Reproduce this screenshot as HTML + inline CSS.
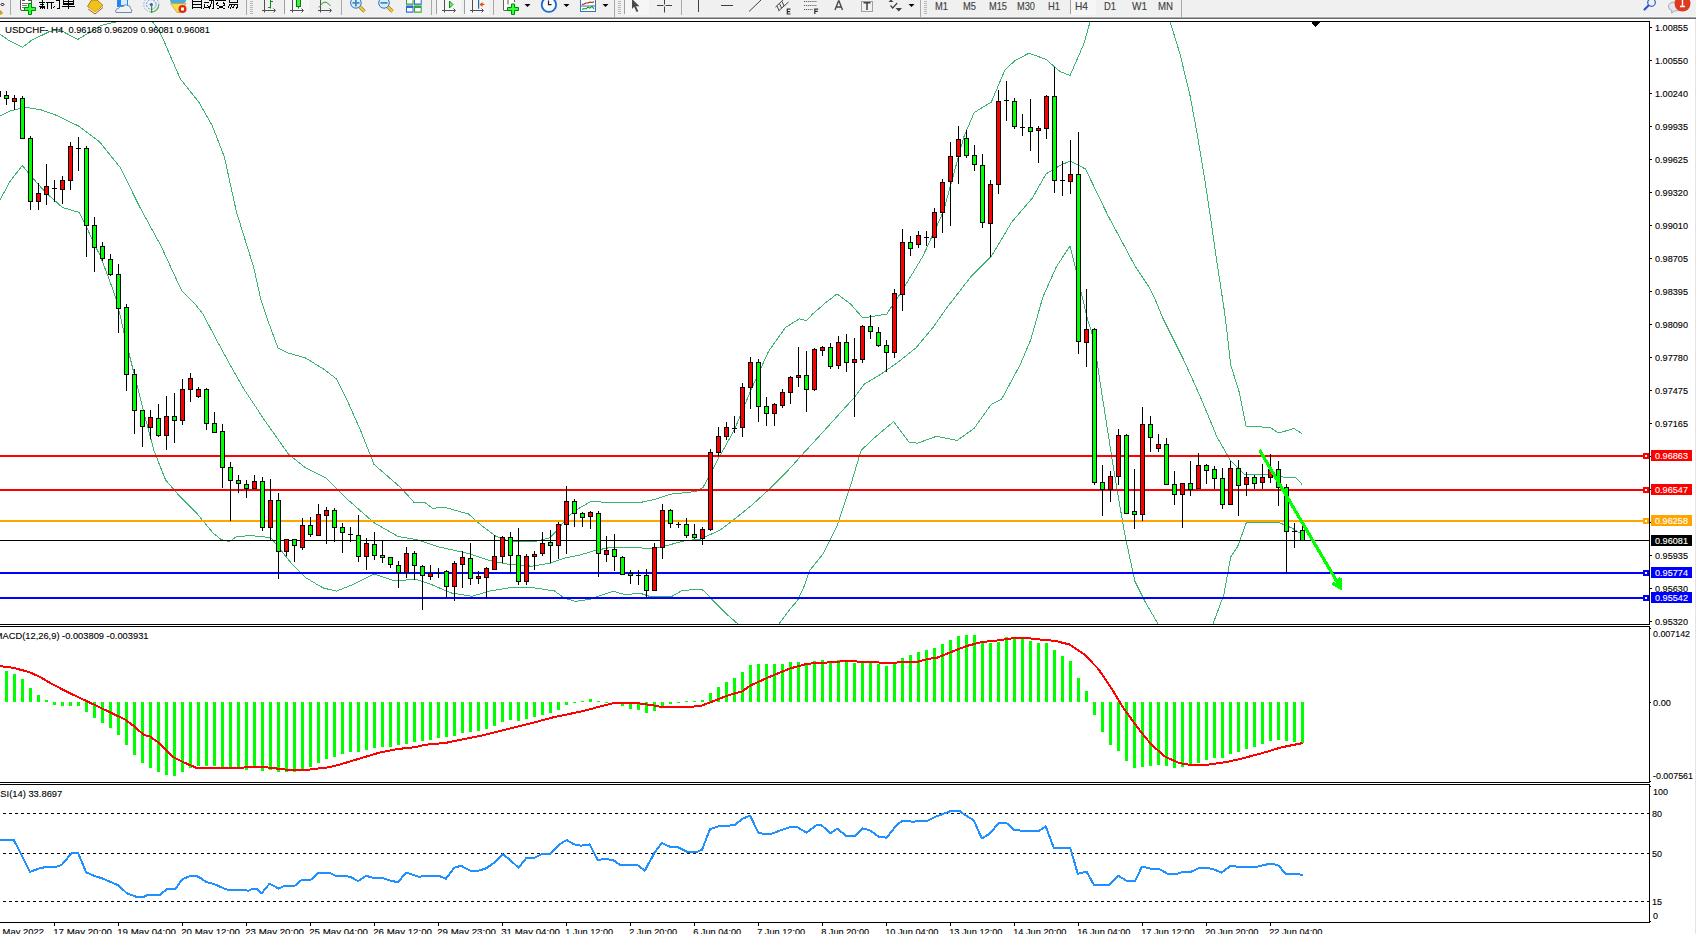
<!DOCTYPE html><html><head><meta charset="utf-8"><style>html,body{margin:0;padding:0;background:#fff;overflow:hidden}svg{display:block}text{font-family:'Liberation Sans',sans-serif}</style></head><body>
<svg width="1696" height="934" viewBox="0 0 1696 934">
<g id="toolbar">
<rect x="0" y="0" width="1696" height="19" fill="#f0f0f0"/>
<rect x="0" y="16" width="1696" height="1" fill="#f5f5f5"/>
<rect x="0" y="17" width="1696" height="1" fill="#a8a8a8"/>
<rect x="0" y="18" width="1696" height="1" fill="#6c6c6c"/>
<rect x="0" y="19" width="1696" height="2" fill="#ffffff"/>
<rect x="10" y="0" width="1" height="15" fill="#a8a8a8"/>
<rect x="246" y="0" width="1" height="15" fill="#a8a8a8"/>
<rect x="341" y="0" width="1" height="15" fill="#a8a8a8"/>
<rect x="431" y="0" width="1" height="15" fill="#a8a8a8"/>
<rect x="493" y="0" width="1" height="15" fill="#a8a8a8"/>
<rect x="681" y="0" width="1" height="15" fill="#a8a8a8"/>
<rect x="614" y="0" width="1" height="17" fill="#a8a8a8"/>
<rect x="920" y="0" width="1" height="17" fill="#a8a8a8"/>
<rect x="1181" y="0" width="1" height="17" fill="#a8a8a8"/>
<rect x="250" y="1" width="3" height="1" fill="#b8b8b8"/>
<rect x="250" y="3" width="3" height="1" fill="#b8b8b8"/>
<rect x="250" y="5" width="3" height="1" fill="#b8b8b8"/>
<rect x="250" y="7" width="3" height="1" fill="#b8b8b8"/>
<rect x="250" y="9" width="3" height="1" fill="#b8b8b8"/>
<rect x="250" y="11" width="3" height="1" fill="#b8b8b8"/>
<rect x="250" y="13" width="3" height="1" fill="#b8b8b8"/>
<rect x="618" y="1" width="3" height="1" fill="#b8b8b8"/>
<rect x="618" y="3" width="3" height="1" fill="#b8b8b8"/>
<rect x="618" y="5" width="3" height="1" fill="#b8b8b8"/>
<rect x="618" y="7" width="3" height="1" fill="#b8b8b8"/>
<rect x="618" y="9" width="3" height="1" fill="#b8b8b8"/>
<rect x="618" y="11" width="3" height="1" fill="#b8b8b8"/>
<rect x="618" y="13" width="3" height="1" fill="#b8b8b8"/>
<rect x="924" y="1" width="3" height="1" fill="#b8b8b8"/>
<rect x="924" y="3" width="3" height="1" fill="#b8b8b8"/>
<rect x="924" y="5" width="3" height="1" fill="#b8b8b8"/>
<rect x="924" y="7" width="3" height="1" fill="#b8b8b8"/>
<rect x="924" y="9" width="3" height="1" fill="#b8b8b8"/>
<rect x="924" y="11" width="3" height="1" fill="#b8b8b8"/>
<rect x="924" y="13" width="3" height="1" fill="#b8b8b8"/>
<rect x="285" y="0" width="24" height="15" fill="#f6f6f6"/>
<rect x="284" y="0" width="1" height="14" fill="#a0a0a0"/>
<rect x="437" y="0" width="24" height="15" fill="#f6f6f6"/>
<rect x="436" y="0" width="1" height="14" fill="#a0a0a0"/>
<rect x="465" y="0" width="24" height="15" fill="#f6f6f6"/>
<rect x="464" y="0" width="1" height="14" fill="#a0a0a0"/>
<rect x="625" y="0" width="24" height="15" fill="#f6f6f6"/>
<rect x="624" y="0" width="1" height="14" fill="#a0a0a0"/>
<rect x="1071" y="0" width="25" height="15" fill="#f6f6f6"/>
<rect x="1070" y="0" width="1" height="14" fill="#a0a0a0"/>
<path d="M524.5,4 h6 l-3,3 z" fill="#000"/>
<path d="M563.5,4 h6 l-3,3 z" fill="#000"/>
<path d="M602.5,4 h6 l-3,3 z" fill="#000"/>
<path d="M908.5,4 h6 l-3,3 z" fill="#000"/>

<!-- left tiny diamond + gold -->
<path d="M2.5,3 l1.5,1.5 l-1.5,1.5 l-1.5,-1.5 z" fill="none" stroke="#000" stroke-width="1"/>
<path d="M0,10 l2.5,2 l0,2 l-2.5,1 z" fill="#d4a010"/>
<!-- new order doc -->
<path d="M20.5,-1 v10 q0,1.5 1.5,1.5 h9.5 v-11.5" fill="#fff" stroke="#505050" stroke-width="1"/>
<rect x="22" y="0" width="3" height="1" fill="#555"/><rect x="28" y="0" width="3" height="1" fill="#555"/>
<rect x="22" y="3" width="6" height="1" fill="#777"/><rect x="22" y="5" width="5" height="1" fill="#777"/><rect x="22" y="7" width="3" height="1" fill="#777"/>
<path d="M28.5,3.5 h3 v4 h4 v3 h-4 v4 h-3 v-4 h-4 v-3 h4 z" fill="#30ff40" stroke="#008a00" stroke-width="1"/>
<!-- book -->
<path d="M87.5,6.5 L91.5,0 L97,0 L103,5.5 L95,12.5 Z" fill="#f0c21e" stroke="#b07a10" stroke-width="1"/>
<path d="M88.5,8 L95,12.8 L102.8,6.8" fill="none" stroke="#fff0c0" stroke-width="1"/>
<path d="M88,9 L95,14 L103,7.5" fill="none" stroke="#a06a10" stroke-width="1"/>
<!-- cloud server -->
<rect x="117" y="0" width="11" height="7" fill="#1e88f0"/>
<rect x="121" y="0" width="6" height="5" fill="#d8ecff"/>
<path d="M116,12.5 q-1.5,-3.5 2.5,-4 q1,-3 4.5,-2 q2,-3 5,-1 q2.5,0 2.5,3 q2,1 1,4 z" fill="#eef2f8" stroke="#7088aa" stroke-width="1"/>
<!-- signals -->
<circle cx="151.3" cy="4.5" r="7.5" fill="none" stroke="#9ab6e0" stroke-width="1" stroke-dasharray="2,1"/>
<circle cx="151.3" cy="4.5" r="4.8" fill="none" stroke="#6a92d8" stroke-width="1" stroke-dasharray="2,1"/>
<path d="M151.3,12 a7.5,7.5 0 0 0 7.5,-7.5" fill="none" stroke="#58b058" stroke-width="1.2"/>
<circle cx="151.3" cy="4.5" r="1.6" fill="#2a60d0"/>
<rect x="151" y="5" width="1.2" height="8" fill="#20a020"/>
<!-- autotrading -->
<ellipse cx="178" cy="1" rx="8" ry="3.5" fill="#48a8e8"/>
<path d="M170.5,3.5 L186,3.5 L180,12.5 L177,12.5 Z" fill="#f4dc50" stroke="#c8a828" stroke-width="0.8"/>
<circle cx="182.5" cy="9" r="4" fill="#e02a10"/>
<rect x="181" y="7.5" width="3" height="3" fill="#fff"/>
<!-- bar chart -->
<path d="M264.5,0 v12.5 M262,10.5 h13 M273.5,8.5 l2,2 l-2,2" fill="none" stroke="#505050" stroke-width="1"/>
<path d="M270.5,0 v8.5 M270.5,1.5 h2.5 M268,7.5 h2.5" fill="none" stroke="#109010" stroke-width="1"/>
<!-- candles (pressed) -->
<path d="M292.5,0 v12.5 M290,10.5 h13 M301.5,8.5 l2,2 l-2,2" fill="none" stroke="#505050" stroke-width="1"/>
<rect x="296.5" y="-1" width="4" height="7.5" fill="#40f040" stroke="#0a7a0a" stroke-width="1"/>
<rect x="298" y="6.5" width="1" height="2" fill="#0a7a0a"/>
<!-- line chart -->
<path d="M320.5,0 v12.5 M318,10.5 h13 M329.5,8.5 l2,2 l-2,2" fill="none" stroke="#505050" stroke-width="1"/>
<path d="M319,7.5 q3,-5.5 6,-5.5 q2.5,0 5.5,4" fill="none" stroke="#2a9a2a" stroke-width="1"/>
<!-- zoom in / out -->
<path d="M360,7 l4.5,4.5" stroke="#a87810" stroke-width="3.2" stroke-linecap="butt"/>
<path d="M360,7 l4.5,4.5" stroke="#f0d040" stroke-width="1.8" stroke-linecap="butt"/>
<circle cx="355.9" cy="2.9" r="5.3" fill="#d4eefc" stroke="#2a70c0" stroke-width="1"/>
<path d="M352.5,2.9 h7 M355.9,-0.5 v7" stroke="#4a88b8" stroke-width="1.8"/>
<path d="M388,7 l4.5,4.5" stroke="#a87810" stroke-width="3.2" stroke-linecap="butt"/>
<path d="M388,7 l4.5,4.5" stroke="#f0d040" stroke-width="1.8" stroke-linecap="butt"/>
<circle cx="384" cy="2.9" r="5.3" fill="#d4eefc" stroke="#2a70c0" stroke-width="1"/>
<path d="M380.5,2.9 h7" stroke="#4a88b8" stroke-width="1.8"/>
<!-- tile -->
<rect x="406" y="-1" width="7.5" height="5.8" fill="#2ea82e"/><rect x="414" y="-1" width="7.7" height="5.8" fill="#2a6ad8"/>
<rect x="406" y="5.5" width="7.5" height="7.2" fill="#2a6ad8"/><rect x="414" y="5.5" width="7.7" height="7.2" fill="#2ea82e"/>
<rect x="407" y="0" width="5.5" height="3.5" fill="#fff"/><rect x="415" y="0" width="5.7" height="3.5" fill="#fff"/>
<rect x="407" y="8" width="5.5" height="3.5" fill="#fff"/><rect x="415" y="8" width="5.7" height="3.5" fill="#fff"/>
<!-- autoscroll / shift -->
<path d="M444.5,0 v12.5 M442,10.5 h13 M453.5,8.5 l2,2 l-2,2" fill="none" stroke="#505050" stroke-width="1"/>
<path d="M449.5,1 l3.5,3.5 l-3.5,3.5 z" fill="#70f070" stroke="#109010" stroke-width="1"/>
<path d="M472.5,0 v12.5 M470,10.5 h13 M481.5,8.5 l2,2 l-2,2" fill="none" stroke="#505050" stroke-width="1"/>
<rect x="478" y="0" width="1.2" height="8.7" fill="#1a6aa8"/>
<path d="M479.5,4.4 l3,-2.5 v1.8 h1.8 v1.4 h-1.8 v1.8 z" fill="#e04a10"/>
<!-- indicators -->
<path d="M503.5,-1 v10.5 q0,1 1,1 h6 M514.5,-1 v3" fill="#fff" stroke="#606060" stroke-width="1"/>
<rect x="504" y="-1" width="10" height="11" fill="#fff"/>
<path d="M503.5,-1 v10.5 q0,1 1,1 h6" fill="none" stroke="#606060" stroke-width="1"/>
<path d="M508,-0.5 v5" stroke="#555" stroke-width="1"/>
<path d="M511.5,4 h3 v3.5 h4 v3 h-4 v4 h-3 v-4 h-4 v-3 h4 z" fill="#30ff40" stroke="#008a00" stroke-width="1"/>
<!-- clock -->
<circle cx="548.9" cy="4.7" r="7.2" fill="#f8fafc" stroke="#1a6ad0" stroke-width="1.8"/>
<path d="M548.5,0.5 v4.2 h3" stroke="#202020" stroke-width="1.2" fill="none"/>
<!-- templates -->
<rect x="580.5" y="-0.5" width="15" height="12" fill="#fff" stroke="#3a70c0" stroke-width="1"/>
<rect x="581" y="5.5" width="14" height="1" fill="#3a70c0"/>
<path d="M582,4.5 l2,-0.5 l2,-1 l2,0 l2,-1 l2,0.5 l2,-0.8" stroke="#a02010" stroke-width="1.1" fill="none"/>
<path d="M582,9.5 l2,-1 l2,0.5 l2,-1.8 l2,1 l2,-1.8 l2,2.5" stroke="#10a010" stroke-width="1.1" fill="none"/>
<!-- cursor -->
<path d="M632,-1 v10 l2.2,-2.2 l2.3,5.2 l1.8,-0.8 l-2.3,-5 h3.5 z" fill="#4a4a4a"/>
<!-- crosshair -->
<path d="M657,5.5 h6.5 M665.5,5.5 h6.5 M664.5,-1 v5.5 M664.5,6.5 v6" stroke="#404040" stroke-width="1"/>
<!-- vline, hline, trend -->
<rect x="698" y="0" width="1" height="12" fill="#404040"/>
<rect x="721" y="5" width="12" height="1" fill="#404040"/>
<path d="M749,11.5 l12,-11.5" stroke="#404040" stroke-width="1"/>
<!-- channel E -->
<path d="M775.5,7 l8,-7.5 M778.5,11 l10,-9 M777,6 l2,4.5 M779.5,3.5 l2,4.5 M782,1.5 l2,4.5" stroke="#404040" stroke-width="1" fill="none"/>
<path d="M790.5,9.2 h-3.2 v4.8 h3.2 M787.3,11.6 h2.8" stroke="#303030" stroke-width="1.2" fill="none"/>
<!-- fibo F -->
<path d="M804,1.5 h13 M804,5.5 h13 M804,9.5 h9" stroke="#505050" stroke-width="1" stroke-dasharray="1,0.9" fill="none"/>
<path d="M818.2,9.2 h-3.4 v4.8 M814.8,11.4 h3" stroke="#303030" stroke-width="1.2" fill="none"/>
<!-- A -->
<path d="M835,10 l3.5,-9 h0.5 l3.5,9 M836.3,7 h5" stroke="#454545" stroke-width="1.3" fill="none"/>
<!-- dotted T box -->
<rect x="861.5" y="1.5" width="11" height="10" fill="none" stroke="#505050" stroke-width="1" stroke-dasharray="1,1"/>
<path d="M863.5,2.8 h7 M867,2.8 v7.2" stroke="#404040" stroke-width="1.5"/>
<!-- arrows -->
<path d="M888.5,2 l2.5,-2.5 l2.5,2.5 z M895.5,8 h6.5 l-3.2,3.5 z" fill="#404040"/>
<path d="M890.5,5.5 l2.2,2.5 l4.5,-5" stroke="#404040" stroke-width="1.2" fill="none"/>
<!-- search -->
<circle cx="1651.5" cy="2.5" r="3.8" fill="none" stroke="#2a62d0" stroke-width="1.2"/>
<path d="M1648.5,5.5 l-4,4" stroke="#2a5ad0" stroke-width="2.2" stroke-linecap="round"/>
<!-- chat + badge -->
<path d="M1668.5,7 q0,-5 6,-5 q6,0 6,5 q0,4 -6,4 l-3,2 l0.5,-2.5 q-3.5,-1 -3.5,-3.5 z" fill="#e4e6ee" stroke="#a8a8b0" stroke-width="1"/>
<circle cx="1682.5" cy="3.5" r="8" fill="#e03a1e"/>
<path d="M1682.5,-2 v8 M1680,6.5 h5" stroke="#fff" stroke-width="1.4"/>


<g stroke="#000" stroke-width="1" fill="none" shape-rendering="crispEdges">
<!-- 新 -->
<path d="M39,2.5 h6 M40,4.5 h4 M39,6.5 h6 M42.5,0 v9 M40,8.5 l2,-2 M43,6.5 l2,2"/>
<path d="M46,2.5 h8 M47.5,2.5 v6.5 M51.5,2.5 v6.5 M53,8 l2,-2"/>
<!-- 订 -->
<path d="M56,0 h4 M59.5,0 v8.5 h-3"/>
<!-- 单 -->
<path d="M63.5,0 v4.5 h10 v-4.5 M63.5,1.5 h10 M63.5,3 h10 M62,6.5 h13 M68.5,0 v9"/>
<!-- 自 -->
<path d="M192.5,0 v9 M201.5,0 v9 M192.5,1.5 h9 M192.5,4.5 h9 M192.5,7.5 h9"/>
<!-- 动 -->
<path d="M204,2.5 h5 M205,4 l-1,4 l5,-1 M207.5,5 l1.5,3 M209,0.5 h5 M213.5,0 v8.5 h-2 M211,0 v4 l-2,5"/>
<!-- 交 -->
<path d="M215,0.5 h11 M218,2.5 l-2,2 M223,2.5 l2,2 M217.5,5 l7,4 M224.5,5 l-7,4"/>
<!-- 易 -->
<path d="M229,0 v2.5 h8 v-2.5 M229,4.5 h8 v3 l-1,1.5 M230,4.5 l-2,3 M232,5 l-2,3.5 M234.5,5 l-2,3.5"/>
</g>

<text x="935" y="9.5" font-size="10.5" fill="#404040" stroke="#404040" stroke-width="0.12" textLength="13" lengthAdjust="spacingAndGlyphs" >M1</text>
<text x="963" y="9.5" font-size="10.5" fill="#404040" stroke="#404040" stroke-width="0.12" textLength="13" lengthAdjust="spacingAndGlyphs" >M5</text>
<text x="989" y="9.5" font-size="10.5" fill="#404040" stroke="#404040" stroke-width="0.12" textLength="18" lengthAdjust="spacingAndGlyphs" >M15</text>
<text x="1017" y="9.5" font-size="10.5" fill="#404040" stroke="#404040" stroke-width="0.12" textLength="18" lengthAdjust="spacingAndGlyphs" >M30</text>
<text x="1048" y="9.5" font-size="10.5" fill="#404040" stroke="#404040" stroke-width="0.12" textLength="12" lengthAdjust="spacingAndGlyphs" >H1</text>
<text x="1075" y="9.5" font-size="10.5" fill="#404040" stroke="#404040" stroke-width="0.12" textLength="13" lengthAdjust="spacingAndGlyphs" >H4</text>
<text x="1104" y="9.5" font-size="10.5" fill="#404040" stroke="#404040" stroke-width="0.12" textLength="12" lengthAdjust="spacingAndGlyphs" >D1</text>
<text x="1132" y="9.5" font-size="10.5" fill="#404040" stroke="#404040" stroke-width="0.12" textLength="15" lengthAdjust="spacingAndGlyphs" >W1</text>
<text x="1158" y="9.5" font-size="10.5" fill="#404040" stroke="#404040" stroke-width="0.12" textLength="15" lengthAdjust="spacingAndGlyphs" >MN</text>
</g>
<g shape-rendering="crispEdges">
<rect x="1695" y="19" width="1" height="915" fill="#e3e3e3"/>
<rect x="0" y="21" width="1650" height="1" fill="#000"/>
<rect x="0" y="624" width="1650" height="1" fill="#000"/>
<rect x="0" y="626" width="1650" height="1" fill="#000"/>
<rect x="0" y="782" width="1650" height="1" fill="#000"/>
<rect x="0" y="784" width="1650" height="1" fill="#000"/>
<rect x="0" y="922" width="1650" height="1" fill="#000"/>
<rect x="1649" y="21" width="1" height="604" fill="#000"/>
<rect x="1649" y="626" width="1" height="157" fill="#000"/>
<rect x="1649" y="784" width="1" height="139" fill="#000"/>
</g>
<defs><clipPath id="cm"><rect x="0" y="22" width="1649" height="602"/></clipPath><clipPath id="cd"><rect x="0" y="627" width="1649" height="155"/></clipPath><clipPath id="cr"><rect x="0" y="785" width="1649" height="137"/></clipPath></defs>
<g clip-path="url(#cm)">
<polyline points="0.0,34.2 8.3,40.0 22.4,47.4 31.3,40.5 49.5,31.5 59.0,29.5 77.8,39.5 89.6,32.4 101.4,25.3 118.0,21.5 122.0,20.0" fill="none" stroke="#3cb371" stroke-width="1" shape-rendering="crispEdges"/>
<polyline points="151.0,20.0 159.2,30.6 165.0,43.6 180.4,79.0 198.7,102.0 212.4,126.0 224.4,157.0 236.4,211.8 253.5,266.7 261.0,300.0 267.9,320.6 278.0,348.0 288.4,353.0 305.5,358.0 322.7,368.5 336.4,378.8 346.7,399.3 360.4,430.0 374.0,464.4 387.8,476.4 401.5,488.4 413.7,502.0 424.0,502.0 432.5,508.3 444.5,507.3 468.5,514.0 482.0,526.0 496.0,536.4 509.6,541.5 535.0,541.5 550.0,537.7 556.0,531.7 565.0,520.5 572.5,512.2 580.0,507.7 590.5,501.7 617.5,502.5 640.0,502.5 655.0,499.5 670.0,494.2 685.0,492.7 697.0,491.2 703.0,487.5 717.0,461.0 734.3,430.0 751.4,389.0 768.5,351.4 785.6,327.4 799.3,318.8 806.2,320.6 813.0,313.7 826.8,301.7 837.0,294.0 850.8,304.3 862.8,318.0 886.8,314.0 902.2,290.6 922.8,256.4 943.3,211.8 964.0,136.5 974.2,112.5 991.3,102.2 1005.0,69.7 1015.3,60.4 1029.0,53.2 1046.0,59.4 1059.8,71.4 1070.0,75.5 1083.8,44.0 1090.6,20.0" fill="none" stroke="#3cb371" stroke-width="1" shape-rendering="crispEdges"/>
<polyline points="1169.6,20.0 1180.0,54.0 1190.0,95.4 1197.0,133.0 1203.9,174.0 1210.7,218.7 1217.6,266.7 1224.4,311.0 1227.3,334.3 1230.7,365.0 1239.3,392.5 1246.2,426.8 1258.0,426.8 1270.0,427.4 1278.7,433.0 1294.0,428.5 1302.0,433.6" fill="none" stroke="#3cb371" stroke-width="1" shape-rendering="crispEdges"/>
<polyline points="0.0,116.0 10.3,110.8 25.7,107.4 41.0,109.8 58.2,116.0 78.8,126.2 99.4,141.6 120.0,167.3 140.5,208.4 161.0,246.0 181.6,290.6 195.3,304.3 202.8,313.7 215.8,338.6 230.2,365.0 243.9,389.0 264.4,420.0 288.4,454.0 305.5,467.9 326.0,478.0 346.7,498.7 374.0,522.7 398.0,536.4 417.0,539.8 437.7,546.7 468.5,553.5 489.0,560.4 509.6,564.5 532.0,566.2 550.0,563.2 565.0,558.0 580.0,555.0 595.0,550.5 610.0,547.5 640.0,547.8 652.0,549.0 662.4,546.7 685.0,540.7 700.0,539.2 720.0,530.2 734.3,519.3 751.4,505.5 768.5,490.0 785.6,473.0 802.8,454.0 820.0,435.3 837.0,416.5 854.2,397.6 864.4,384.0 881.6,373.7 898.7,361.7 915.8,348.0 933.0,327.4 946.8,307.8 970.7,277.0 991.3,256.4 1011.8,222.0 1032.4,198.0 1046.0,174.0 1059.8,165.6 1070.0,161.0 1085.5,169.0 1107.8,215.3 1135.4,266.7 1149.0,287.0 1155.4,300.0 1162.8,318.0 1182.8,358.0 1200.0,396.0 1217.0,437.0 1230.7,461.0 1244.4,474.7 1271.8,474.7 1285.5,477.5 1295.8,478.0 1302.0,484.3" fill="none" stroke="#3cb371" stroke-width="1" shape-rendering="crispEdges"/>
<polyline points="0.0,199.9 10.3,181.0 22.3,165.6 30.8,175.9 44.5,191.3 62.3,207.4 79.4,212.5 86.2,226.2 93.0,241.6 100.0,255.3 108.5,277.6 115.3,296.4 120.5,317.0 125.6,340.0 133.4,371.0 142.4,407.0 154.0,450.8 165.6,480.0 178.8,495.3 196.0,512.4 213.0,533.0 221.6,539.8 229.5,541.5 237.0,536.4 250.7,535.7 261.0,536.4 271.3,538.0 278.0,546.7 291.8,563.8 305.5,577.5 322.7,587.8 336.4,591.2 353.5,584.3 374.0,574.0 394.6,581.0 415.2,579.2 430.8,584.3 451.4,593.0 472.0,596.3 489.0,591.2 509.6,587.8 535.0,588.0 554.5,591.0 565.0,598.4 575.5,601.4 590.5,599.2 601.0,595.4 613.0,591.2 625.0,594.7 640.0,593.2 650.4,596.6 671.4,596.6 682.0,590.6 700.0,589.1 703.0,590.2 720.0,607.4 728.0,615.4 738.0,624.0" fill="none" stroke="#3cb371" stroke-width="1" shape-rendering="crispEdges"/>
<polyline points="779.0,624.0 789.6,609.6 797.5,600.5 803.5,588.0 809.6,570.6 823.3,553.5 837.0,526.0 850.7,485.0 861.0,450.7 871.3,440.5 893.6,421.6 909.0,442.2 917.5,443.2 936.4,436.3 957.0,440.5 974.0,428.5 991.2,404.5 1001.5,399.3 1020.0,365.0 1030.7,340.0 1042.7,297.5 1056.4,266.7 1070.0,246.0 1075.2,266.7 1087.2,318.0 1094.0,340.0 1100.6,385.6 1114.0,471.3 1124.5,533.0 1134.8,581.0 1145.0,601.5 1158.0,624.0" fill="none" stroke="#3cb371" stroke-width="1" shape-rendering="crispEdges"/>
<polyline points="1213.0,624.0 1223.9,594.6 1230.7,557.0 1237.6,546.7 1246.2,523.0 1274.0,522.5 1279.0,522.5 1292.4,528.3 1301.0,533.7" fill="none" stroke="#3cb371" stroke-width="1" shape-rendering="crispEdges"/>
<g shape-rendering="crispEdges">
<rect x="0" y="540" width="1649" height="1" fill="#000"/>
<rect x="0" y="455" width="1649" height="2" fill="#ff0000"/>
<rect x="1643" y="453" width="6" height="6" fill="#ff0000"/>
<rect x="1645" y="455" width="2" height="2" fill="#fff"/>
<rect x="0" y="489" width="1649" height="2" fill="#ff0000"/>
<rect x="1643" y="487" width="6" height="6" fill="#ff0000"/>
<rect x="1645" y="489" width="2" height="2" fill="#fff"/>
<rect x="0" y="520" width="1649" height="2" fill="#ffa500"/>
<rect x="1643" y="518" width="6" height="6" fill="#ffa500"/>
<rect x="1645" y="520" width="2" height="2" fill="#fff"/>
<rect x="0" y="572" width="1649" height="2" fill="#0000ff"/>
<rect x="1643" y="570" width="6" height="6" fill="#0000ff"/>
<rect x="1645" y="572" width="2" height="2" fill="#fff"/>
<rect x="0" y="597" width="1649" height="2" fill="#0000ff"/>
<rect x="1643" y="595" width="6" height="6" fill="#0000ff"/>
<rect x="1645" y="597" width="2" height="2" fill="#fff"/>
</g>
<g shape-rendering="crispEdges">
<rect x="6" y="91" width="1" height="14" fill="#000"/>
<rect x="4" y="95" width="5" height="4" fill="#000"/>
<rect x="5" y="96" width="3" height="2" fill="#00ff00"/>
<rect x="14" y="95" width="1" height="15" fill="#000"/>
<rect x="12" y="98" width="5" height="4" fill="#000"/>
<rect x="13" y="99" width="3" height="2" fill="#ff0000"/>
<rect x="22" y="96" width="1" height="43" fill="#000"/>
<rect x="20" y="98" width="5" height="41" fill="#000"/>
<rect x="21" y="99" width="3" height="39" fill="#00ff00"/>
<rect x="30" y="136" width="1" height="74" fill="#000"/>
<rect x="28" y="138" width="5" height="64" fill="#000"/>
<rect x="29" y="139" width="3" height="62" fill="#00ff00"/>
<rect x="38" y="183" width="1" height="27" fill="#000"/>
<rect x="36" y="193" width="5" height="9" fill="#000"/>
<rect x="37" y="194" width="3" height="7" fill="#ff0000"/>
<rect x="46" y="164" width="1" height="41" fill="#000"/>
<rect x="44" y="186" width="5" height="9" fill="#000"/>
<rect x="45" y="187" width="3" height="7" fill="#ff0000"/>
<rect x="54" y="180" width="1" height="22" fill="#000"/>
<rect x="52" y="188" width="5" height="1" fill="#000"/>
<rect x="62" y="176" width="1" height="28" fill="#000"/>
<rect x="60" y="180" width="5" height="10" fill="#000"/>
<rect x="61" y="181" width="3" height="8" fill="#ff0000"/>
<rect x="70" y="142" width="1" height="48" fill="#000"/>
<rect x="68" y="146" width="5" height="35" fill="#000"/>
<rect x="69" y="147" width="3" height="33" fill="#ff0000"/>
<rect x="78" y="137" width="1" height="34" fill="#000"/>
<rect x="76" y="148" width="5" height="1" fill="#000"/>
<rect x="86" y="146" width="1" height="111" fill="#000"/>
<rect x="84" y="148" width="5" height="78" fill="#000"/>
<rect x="85" y="149" width="3" height="76" fill="#00ff00"/>
<rect x="94" y="217" width="1" height="55" fill="#000"/>
<rect x="92" y="225" width="5" height="23" fill="#000"/>
<rect x="93" y="226" width="3" height="21" fill="#00ff00"/>
<rect x="102" y="242" width="1" height="19" fill="#000"/>
<rect x="100" y="246" width="5" height="13" fill="#000"/>
<rect x="101" y="247" width="3" height="11" fill="#00ff00"/>
<rect x="110" y="254" width="1" height="22" fill="#000"/>
<rect x="108" y="259" width="5" height="16" fill="#000"/>
<rect x="109" y="260" width="3" height="14" fill="#00ff00"/>
<rect x="118" y="264" width="1" height="69" fill="#000"/>
<rect x="116" y="274" width="5" height="35" fill="#000"/>
<rect x="117" y="275" width="3" height="33" fill="#00ff00"/>
<rect x="126" y="304" width="1" height="87" fill="#000"/>
<rect x="124" y="307" width="5" height="68" fill="#000"/>
<rect x="125" y="308" width="3" height="66" fill="#00ff00"/>
<rect x="134" y="369" width="1" height="65" fill="#000"/>
<rect x="132" y="374" width="5" height="37" fill="#000"/>
<rect x="133" y="375" width="3" height="35" fill="#00ff00"/>
<rect x="142" y="410" width="1" height="37" fill="#000"/>
<rect x="140" y="410" width="5" height="17" fill="#000"/>
<rect x="141" y="411" width="3" height="15" fill="#00ff00"/>
<rect x="150" y="410" width="1" height="29" fill="#000"/>
<rect x="148" y="417" width="5" height="11" fill="#000"/>
<rect x="149" y="418" width="3" height="9" fill="#ff0000"/>
<rect x="158" y="404" width="1" height="33" fill="#000"/>
<rect x="156" y="418" width="5" height="18" fill="#000"/>
<rect x="157" y="419" width="3" height="16" fill="#00ff00"/>
<rect x="166" y="396" width="1" height="54" fill="#000"/>
<rect x="164" y="416" width="5" height="20" fill="#000"/>
<rect x="165" y="417" width="3" height="18" fill="#ff0000"/>
<rect x="174" y="393" width="1" height="50" fill="#000"/>
<rect x="172" y="416" width="5" height="5" fill="#000"/>
<rect x="173" y="417" width="3" height="3" fill="#00ff00"/>
<rect x="182" y="379" width="1" height="46" fill="#000"/>
<rect x="180" y="389" width="5" height="32" fill="#000"/>
<rect x="181" y="390" width="3" height="30" fill="#ff0000"/>
<rect x="190" y="373" width="1" height="29" fill="#000"/>
<rect x="188" y="378" width="5" height="12" fill="#000"/>
<rect x="189" y="379" width="3" height="10" fill="#ff0000"/>
<rect x="198" y="387" width="1" height="11" fill="#000"/>
<rect x="196" y="389" width="5" height="8" fill="#000"/>
<rect x="197" y="390" width="3" height="6" fill="#ff0000"/>
<rect x="206" y="388" width="1" height="42" fill="#000"/>
<rect x="204" y="389" width="5" height="35" fill="#000"/>
<rect x="205" y="390" width="3" height="33" fill="#00ff00"/>
<rect x="214" y="412" width="1" height="21" fill="#000"/>
<rect x="212" y="423" width="5" height="10" fill="#000"/>
<rect x="213" y="424" width="3" height="8" fill="#00ff00"/>
<rect x="222" y="424" width="1" height="64" fill="#000"/>
<rect x="220" y="431" width="5" height="37" fill="#000"/>
<rect x="221" y="432" width="3" height="35" fill="#00ff00"/>
<rect x="230" y="462" width="1" height="59" fill="#000"/>
<rect x="228" y="467" width="5" height="14" fill="#000"/>
<rect x="229" y="468" width="3" height="12" fill="#00ff00"/>
<rect x="238" y="475" width="1" height="18" fill="#000"/>
<rect x="236" y="480" width="5" height="4" fill="#000"/>
<rect x="237" y="481" width="3" height="2" fill="#00ff00"/>
<rect x="246" y="480" width="1" height="18" fill="#000"/>
<rect x="244" y="484" width="5" height="5" fill="#000"/>
<rect x="245" y="485" width="3" height="3" fill="#00ff00"/>
<rect x="254" y="475" width="1" height="14" fill="#000"/>
<rect x="252" y="481" width="5" height="8" fill="#000"/>
<rect x="253" y="482" width="3" height="6" fill="#ff0000"/>
<rect x="262" y="477" width="1" height="54" fill="#000"/>
<rect x="260" y="481" width="5" height="47" fill="#000"/>
<rect x="261" y="482" width="3" height="45" fill="#00ff00"/>
<rect x="270" y="479" width="1" height="61" fill="#000"/>
<rect x="268" y="500" width="5" height="28" fill="#000"/>
<rect x="269" y="501" width="3" height="26" fill="#ff0000"/>
<rect x="278" y="493" width="1" height="86" fill="#000"/>
<rect x="276" y="500" width="5" height="52" fill="#000"/>
<rect x="277" y="501" width="3" height="50" fill="#00ff00"/>
<rect x="286" y="539" width="1" height="17" fill="#000"/>
<rect x="284" y="539" width="5" height="13" fill="#000"/>
<rect x="285" y="540" width="3" height="11" fill="#ff0000"/>
<rect x="294" y="539" width="1" height="23" fill="#000"/>
<rect x="292" y="539" width="5" height="7" fill="#000"/>
<rect x="293" y="540" width="3" height="5" fill="#00ff00"/>
<rect x="302" y="518" width="1" height="32" fill="#000"/>
<rect x="300" y="525" width="5" height="23" fill="#000"/>
<rect x="301" y="526" width="3" height="21" fill="#ff0000"/>
<rect x="310" y="517" width="1" height="20" fill="#000"/>
<rect x="308" y="525" width="5" height="10" fill="#000"/>
<rect x="309" y="526" width="3" height="8" fill="#00ff00"/>
<rect x="318" y="504" width="1" height="32" fill="#000"/>
<rect x="316" y="514" width="5" height="22" fill="#000"/>
<rect x="317" y="515" width="3" height="20" fill="#ff0000"/>
<rect x="326" y="507" width="1" height="37" fill="#000"/>
<rect x="324" y="510" width="5" height="6" fill="#000"/>
<rect x="325" y="511" width="3" height="4" fill="#ff0000"/>
<rect x="334" y="508" width="1" height="34" fill="#000"/>
<rect x="332" y="510" width="5" height="18" fill="#000"/>
<rect x="333" y="511" width="3" height="16" fill="#00ff00"/>
<rect x="342" y="523" width="1" height="30" fill="#000"/>
<rect x="340" y="527" width="5" height="6" fill="#000"/>
<rect x="341" y="528" width="3" height="4" fill="#00ff00"/>
<rect x="350" y="527" width="1" height="15" fill="#000"/>
<rect x="348" y="534" width="5" height="1" fill="#000"/>
<rect x="358" y="515" width="1" height="47" fill="#000"/>
<rect x="356" y="535" width="5" height="22" fill="#000"/>
<rect x="357" y="536" width="3" height="20" fill="#00ff00"/>
<rect x="366" y="538" width="1" height="32" fill="#000"/>
<rect x="364" y="543" width="5" height="14" fill="#000"/>
<rect x="365" y="544" width="3" height="12" fill="#ff0000"/>
<rect x="374" y="532" width="1" height="28" fill="#000"/>
<rect x="372" y="544" width="5" height="12" fill="#000"/>
<rect x="373" y="545" width="3" height="10" fill="#00ff00"/>
<rect x="382" y="540" width="1" height="23" fill="#000"/>
<rect x="380" y="555" width="5" height="3" fill="#000"/>
<rect x="381" y="556" width="3" height="1" fill="#00ff00"/>
<rect x="390" y="557" width="1" height="11" fill="#000"/>
<rect x="388" y="557" width="5" height="8" fill="#000"/>
<rect x="389" y="558" width="3" height="6" fill="#00ff00"/>
<rect x="398" y="561" width="1" height="27" fill="#000"/>
<rect x="396" y="565" width="5" height="8" fill="#000"/>
<rect x="397" y="566" width="3" height="6" fill="#00ff00"/>
<rect x="406" y="547" width="1" height="31" fill="#000"/>
<rect x="404" y="553" width="5" height="20" fill="#000"/>
<rect x="405" y="554" width="3" height="18" fill="#ff0000"/>
<rect x="414" y="551" width="1" height="29" fill="#000"/>
<rect x="412" y="553" width="5" height="13" fill="#000"/>
<rect x="413" y="554" width="3" height="11" fill="#00ff00"/>
<rect x="422" y="565" width="1" height="45" fill="#000"/>
<rect x="420" y="566" width="5" height="10" fill="#000"/>
<rect x="421" y="567" width="3" height="8" fill="#00ff00"/>
<rect x="430" y="565" width="1" height="15" fill="#000"/>
<rect x="428" y="573" width="5" height="4" fill="#000"/>
<rect x="429" y="574" width="3" height="2" fill="#ff0000"/>
<rect x="438" y="568" width="1" height="10" fill="#000"/>
<rect x="436" y="573" width="5" height="1" fill="#000"/>
<rect x="446" y="570" width="1" height="28" fill="#000"/>
<rect x="444" y="571" width="5" height="16" fill="#000"/>
<rect x="445" y="572" width="3" height="14" fill="#00ff00"/>
<rect x="454" y="561" width="1" height="40" fill="#000"/>
<rect x="452" y="563" width="5" height="24" fill="#000"/>
<rect x="453" y="564" width="3" height="22" fill="#ff0000"/>
<rect x="462" y="551" width="1" height="37" fill="#000"/>
<rect x="460" y="557" width="5" height="8" fill="#000"/>
<rect x="461" y="558" width="3" height="6" fill="#ff0000"/>
<rect x="470" y="543" width="1" height="42" fill="#000"/>
<rect x="468" y="558" width="5" height="21" fill="#000"/>
<rect x="469" y="559" width="3" height="19" fill="#00ff00"/>
<rect x="478" y="571" width="1" height="13" fill="#000"/>
<rect x="476" y="576" width="5" height="3" fill="#000"/>
<rect x="477" y="577" width="3" height="1" fill="#ff0000"/>
<rect x="486" y="567" width="1" height="31" fill="#000"/>
<rect x="484" y="568" width="5" height="10" fill="#000"/>
<rect x="485" y="569" width="3" height="8" fill="#ff0000"/>
<rect x="494" y="535" width="1" height="35" fill="#000"/>
<rect x="492" y="556" width="5" height="14" fill="#000"/>
<rect x="493" y="557" width="3" height="12" fill="#ff0000"/>
<rect x="502" y="536" width="1" height="27" fill="#000"/>
<rect x="500" y="537" width="5" height="20" fill="#000"/>
<rect x="501" y="538" width="3" height="18" fill="#ff0000"/>
<rect x="510" y="532" width="1" height="41" fill="#000"/>
<rect x="508" y="537" width="5" height="19" fill="#000"/>
<rect x="509" y="538" width="3" height="17" fill="#00ff00"/>
<rect x="518" y="528" width="1" height="57" fill="#000"/>
<rect x="516" y="555" width="5" height="27" fill="#000"/>
<rect x="517" y="556" width="3" height="25" fill="#00ff00"/>
<rect x="526" y="554" width="1" height="31" fill="#000"/>
<rect x="524" y="556" width="5" height="26" fill="#000"/>
<rect x="525" y="557" width="3" height="24" fill="#ff0000"/>
<rect x="534" y="551" width="1" height="19" fill="#000"/>
<rect x="532" y="554" width="5" height="3" fill="#000"/>
<rect x="533" y="555" width="3" height="1" fill="#ff0000"/>
<rect x="542" y="532" width="1" height="24" fill="#000"/>
<rect x="540" y="543" width="5" height="11" fill="#000"/>
<rect x="541" y="544" width="3" height="9" fill="#ff0000"/>
<rect x="550" y="530" width="1" height="33" fill="#000"/>
<rect x="548" y="542" width="5" height="4" fill="#000"/>
<rect x="549" y="543" width="3" height="2" fill="#00ff00"/>
<rect x="558" y="522" width="1" height="37" fill="#000"/>
<rect x="556" y="524" width="5" height="22" fill="#000"/>
<rect x="557" y="525" width="3" height="20" fill="#ff0000"/>
<rect x="566" y="486" width="1" height="68" fill="#000"/>
<rect x="564" y="501" width="5" height="24" fill="#000"/>
<rect x="565" y="502" width="3" height="22" fill="#ff0000"/>
<rect x="574" y="499" width="1" height="28" fill="#000"/>
<rect x="572" y="501" width="5" height="13" fill="#000"/>
<rect x="573" y="502" width="3" height="11" fill="#00ff00"/>
<rect x="582" y="512" width="1" height="15" fill="#000"/>
<rect x="580" y="513" width="5" height="5" fill="#000"/>
<rect x="581" y="514" width="3" height="3" fill="#00ff00"/>
<rect x="590" y="511" width="1" height="18" fill="#000"/>
<rect x="588" y="512" width="5" height="5" fill="#000"/>
<rect x="589" y="513" width="3" height="3" fill="#ff0000"/>
<rect x="598" y="511" width="1" height="66" fill="#000"/>
<rect x="596" y="513" width="5" height="41" fill="#000"/>
<rect x="597" y="514" width="3" height="39" fill="#00ff00"/>
<rect x="606" y="536" width="1" height="26" fill="#000"/>
<rect x="604" y="550" width="5" height="5" fill="#000"/>
<rect x="605" y="551" width="3" height="3" fill="#ff0000"/>
<rect x="614" y="534" width="1" height="37" fill="#000"/>
<rect x="612" y="549" width="5" height="8" fill="#000"/>
<rect x="613" y="550" width="3" height="6" fill="#00ff00"/>
<rect x="622" y="556" width="1" height="19" fill="#000"/>
<rect x="620" y="557" width="5" height="18" fill="#000"/>
<rect x="621" y="558" width="3" height="16" fill="#00ff00"/>
<rect x="630" y="570" width="1" height="14" fill="#000"/>
<rect x="628" y="573" width="5" height="3" fill="#000"/>
<rect x="629" y="574" width="3" height="1" fill="#00ff00"/>
<rect x="638" y="570" width="1" height="15" fill="#000"/>
<rect x="636" y="575" width="5" height="1" fill="#000"/>
<rect x="646" y="569" width="1" height="28" fill="#000"/>
<rect x="644" y="575" width="5" height="16" fill="#000"/>
<rect x="645" y="576" width="3" height="14" fill="#00ff00"/>
<rect x="654" y="543" width="1" height="48" fill="#000"/>
<rect x="652" y="547" width="5" height="44" fill="#000"/>
<rect x="653" y="548" width="3" height="42" fill="#ff0000"/>
<rect x="662" y="504" width="1" height="55" fill="#000"/>
<rect x="660" y="510" width="5" height="38" fill="#000"/>
<rect x="661" y="511" width="3" height="36" fill="#ff0000"/>
<rect x="670" y="509" width="1" height="19" fill="#000"/>
<rect x="668" y="510" width="5" height="14" fill="#000"/>
<rect x="669" y="511" width="3" height="12" fill="#00ff00"/>
<rect x="678" y="522" width="1" height="6" fill="#000"/>
<rect x="676" y="524" width="5" height="1" fill="#000"/>
<rect x="686" y="518" width="1" height="20" fill="#000"/>
<rect x="684" y="524" width="5" height="12" fill="#000"/>
<rect x="685" y="525" width="3" height="10" fill="#00ff00"/>
<rect x="694" y="524" width="1" height="15" fill="#000"/>
<rect x="692" y="534" width="5" height="4" fill="#000"/>
<rect x="693" y="535" width="3" height="2" fill="#00ff00"/>
<rect x="702" y="527" width="1" height="18" fill="#000"/>
<rect x="700" y="529" width="5" height="10" fill="#000"/>
<rect x="701" y="530" width="3" height="8" fill="#ff0000"/>
<rect x="710" y="449" width="1" height="82" fill="#000"/>
<rect x="708" y="452" width="5" height="78" fill="#000"/>
<rect x="709" y="453" width="3" height="76" fill="#ff0000"/>
<rect x="718" y="427" width="1" height="29" fill="#000"/>
<rect x="716" y="436" width="5" height="17" fill="#000"/>
<rect x="717" y="437" width="3" height="15" fill="#ff0000"/>
<rect x="726" y="422" width="1" height="18" fill="#000"/>
<rect x="724" y="427" width="5" height="10" fill="#000"/>
<rect x="725" y="428" width="3" height="8" fill="#ff0000"/>
<rect x="734" y="416" width="1" height="17" fill="#000"/>
<rect x="732" y="428" width="5" height="1" fill="#000"/>
<rect x="742" y="383" width="1" height="54" fill="#000"/>
<rect x="740" y="387" width="5" height="41" fill="#000"/>
<rect x="741" y="388" width="3" height="39" fill="#ff0000"/>
<rect x="750" y="357" width="1" height="52" fill="#000"/>
<rect x="748" y="362" width="5" height="26" fill="#000"/>
<rect x="749" y="363" width="3" height="24" fill="#ff0000"/>
<rect x="758" y="359" width="1" height="63" fill="#000"/>
<rect x="756" y="362" width="5" height="45" fill="#000"/>
<rect x="757" y="363" width="3" height="43" fill="#00ff00"/>
<rect x="766" y="397" width="1" height="29" fill="#000"/>
<rect x="764" y="406" width="5" height="8" fill="#000"/>
<rect x="765" y="407" width="3" height="6" fill="#00ff00"/>
<rect x="774" y="403" width="1" height="23" fill="#000"/>
<rect x="772" y="404" width="5" height="10" fill="#000"/>
<rect x="773" y="405" width="3" height="8" fill="#ff0000"/>
<rect x="782" y="389" width="1" height="19" fill="#000"/>
<rect x="780" y="392" width="5" height="14" fill="#000"/>
<rect x="781" y="393" width="3" height="12" fill="#ff0000"/>
<rect x="790" y="376" width="1" height="28" fill="#000"/>
<rect x="788" y="377" width="5" height="16" fill="#000"/>
<rect x="789" y="378" width="3" height="14" fill="#ff0000"/>
<rect x="798" y="347" width="1" height="40" fill="#000"/>
<rect x="796" y="375" width="5" height="3" fill="#000"/>
<rect x="797" y="376" width="3" height="1" fill="#ff0000"/>
<rect x="806" y="351" width="1" height="61" fill="#000"/>
<rect x="804" y="375" width="5" height="15" fill="#000"/>
<rect x="805" y="376" width="3" height="13" fill="#00ff00"/>
<rect x="814" y="348" width="1" height="43" fill="#000"/>
<rect x="812" y="349" width="5" height="41" fill="#000"/>
<rect x="813" y="350" width="3" height="39" fill="#ff0000"/>
<rect x="822" y="346" width="1" height="10" fill="#000"/>
<rect x="820" y="347" width="5" height="4" fill="#000"/>
<rect x="821" y="348" width="3" height="2" fill="#ff0000"/>
<rect x="830" y="343" width="1" height="26" fill="#000"/>
<rect x="828" y="347" width="5" height="20" fill="#000"/>
<rect x="829" y="348" width="3" height="18" fill="#00ff00"/>
<rect x="838" y="336" width="1" height="33" fill="#000"/>
<rect x="836" y="342" width="5" height="24" fill="#000"/>
<rect x="837" y="343" width="3" height="22" fill="#ff0000"/>
<rect x="846" y="334" width="1" height="38" fill="#000"/>
<rect x="844" y="342" width="5" height="21" fill="#000"/>
<rect x="845" y="343" width="3" height="19" fill="#00ff00"/>
<rect x="854" y="338" width="1" height="79" fill="#000"/>
<rect x="852" y="359" width="5" height="4" fill="#000"/>
<rect x="853" y="360" width="3" height="2" fill="#ff0000"/>
<rect x="862" y="325" width="1" height="38" fill="#000"/>
<rect x="860" y="326" width="5" height="34" fill="#000"/>
<rect x="861" y="327" width="3" height="32" fill="#ff0000"/>
<rect x="870" y="315" width="1" height="24" fill="#000"/>
<rect x="868" y="326" width="5" height="6" fill="#000"/>
<rect x="869" y="327" width="3" height="4" fill="#00ff00"/>
<rect x="878" y="327" width="1" height="20" fill="#000"/>
<rect x="876" y="332" width="5" height="14" fill="#000"/>
<rect x="877" y="333" width="3" height="12" fill="#00ff00"/>
<rect x="886" y="340" width="1" height="32" fill="#000"/>
<rect x="884" y="345" width="5" height="8" fill="#000"/>
<rect x="885" y="346" width="3" height="6" fill="#00ff00"/>
<rect x="894" y="289" width="1" height="69" fill="#000"/>
<rect x="892" y="293" width="5" height="60" fill="#000"/>
<rect x="893" y="294" width="3" height="58" fill="#ff0000"/>
<rect x="902" y="229" width="1" height="82" fill="#000"/>
<rect x="900" y="242" width="5" height="53" fill="#000"/>
<rect x="901" y="243" width="3" height="51" fill="#ff0000"/>
<rect x="910" y="236" width="1" height="20" fill="#000"/>
<rect x="908" y="242" width="5" height="7" fill="#000"/>
<rect x="909" y="243" width="3" height="5" fill="#00ff00"/>
<rect x="918" y="231" width="1" height="17" fill="#000"/>
<rect x="916" y="235" width="5" height="10" fill="#000"/>
<rect x="917" y="236" width="3" height="8" fill="#ff0000"/>
<rect x="926" y="231" width="1" height="15" fill="#000"/>
<rect x="924" y="237" width="5" height="1" fill="#000"/>
<rect x="934" y="208" width="1" height="40" fill="#000"/>
<rect x="932" y="212" width="5" height="26" fill="#000"/>
<rect x="933" y="213" width="3" height="24" fill="#ff0000"/>
<rect x="942" y="179" width="1" height="54" fill="#000"/>
<rect x="940" y="182" width="5" height="31" fill="#000"/>
<rect x="941" y="183" width="3" height="29" fill="#ff0000"/>
<rect x="950" y="142" width="1" height="84" fill="#000"/>
<rect x="948" y="156" width="5" height="26" fill="#000"/>
<rect x="949" y="157" width="3" height="24" fill="#ff0000"/>
<rect x="958" y="126" width="1" height="58" fill="#000"/>
<rect x="956" y="139" width="5" height="18" fill="#000"/>
<rect x="957" y="140" width="3" height="16" fill="#ff0000"/>
<rect x="966" y="130" width="1" height="28" fill="#000"/>
<rect x="964" y="138" width="5" height="18" fill="#000"/>
<rect x="965" y="139" width="3" height="16" fill="#00ff00"/>
<rect x="974" y="145" width="1" height="26" fill="#000"/>
<rect x="972" y="155" width="5" height="10" fill="#000"/>
<rect x="973" y="156" width="3" height="8" fill="#00ff00"/>
<rect x="982" y="154" width="1" height="74" fill="#000"/>
<rect x="980" y="165" width="5" height="58" fill="#000"/>
<rect x="981" y="166" width="3" height="56" fill="#00ff00"/>
<rect x="990" y="180" width="1" height="77" fill="#000"/>
<rect x="988" y="184" width="5" height="40" fill="#000"/>
<rect x="989" y="185" width="3" height="38" fill="#ff0000"/>
<rect x="998" y="90" width="1" height="104" fill="#000"/>
<rect x="996" y="101" width="5" height="84" fill="#000"/>
<rect x="997" y="102" width="3" height="82" fill="#ff0000"/>
<rect x="1006" y="81" width="1" height="40" fill="#000"/>
<rect x="1004" y="100" width="5" height="1" fill="#000"/>
<rect x="1014" y="98" width="1" height="31" fill="#000"/>
<rect x="1012" y="101" width="5" height="26" fill="#000"/>
<rect x="1013" y="102" width="3" height="24" fill="#00ff00"/>
<rect x="1022" y="114" width="1" height="22" fill="#000"/>
<rect x="1020" y="127" width="5" height="1" fill="#000"/>
<rect x="1030" y="99" width="1" height="52" fill="#000"/>
<rect x="1028" y="127" width="5" height="5" fill="#000"/>
<rect x="1029" y="128" width="3" height="3" fill="#00ff00"/>
<rect x="1038" y="126" width="1" height="37" fill="#000"/>
<rect x="1036" y="128" width="5" height="3" fill="#000"/>
<rect x="1037" y="129" width="3" height="1" fill="#ff0000"/>
<rect x="1046" y="95" width="1" height="44" fill="#000"/>
<rect x="1044" y="96" width="5" height="33" fill="#000"/>
<rect x="1045" y="97" width="3" height="31" fill="#ff0000"/>
<rect x="1054" y="67" width="1" height="126" fill="#000"/>
<rect x="1052" y="96" width="5" height="85" fill="#000"/>
<rect x="1053" y="97" width="3" height="83" fill="#00ff00"/>
<rect x="1062" y="161" width="1" height="35" fill="#000"/>
<rect x="1060" y="180" width="5" height="1" fill="#000"/>
<rect x="1070" y="140" width="1" height="54" fill="#000"/>
<rect x="1068" y="174" width="5" height="8" fill="#000"/>
<rect x="1069" y="175" width="3" height="6" fill="#ff0000"/>
<rect x="1078" y="132" width="1" height="222" fill="#000"/>
<rect x="1076" y="174" width="5" height="168" fill="#000"/>
<rect x="1077" y="175" width="3" height="166" fill="#00ff00"/>
<rect x="1086" y="289" width="1" height="78" fill="#000"/>
<rect x="1084" y="329" width="5" height="14" fill="#000"/>
<rect x="1085" y="330" width="3" height="12" fill="#ff0000"/>
<rect x="1094" y="328" width="1" height="157" fill="#000"/>
<rect x="1092" y="329" width="5" height="154" fill="#000"/>
<rect x="1093" y="330" width="3" height="152" fill="#00ff00"/>
<rect x="1102" y="465" width="1" height="51" fill="#000"/>
<rect x="1100" y="482" width="5" height="8" fill="#000"/>
<rect x="1101" y="483" width="3" height="6" fill="#00ff00"/>
<rect x="1110" y="471" width="1" height="31" fill="#000"/>
<rect x="1108" y="476" width="5" height="14" fill="#000"/>
<rect x="1109" y="477" width="3" height="12" fill="#ff0000"/>
<rect x="1118" y="429" width="1" height="56" fill="#000"/>
<rect x="1116" y="435" width="5" height="42" fill="#000"/>
<rect x="1117" y="436" width="3" height="40" fill="#ff0000"/>
<rect x="1126" y="434" width="1" height="80" fill="#000"/>
<rect x="1124" y="435" width="5" height="79" fill="#000"/>
<rect x="1125" y="436" width="3" height="77" fill="#00ff00"/>
<rect x="1134" y="469" width="1" height="60" fill="#000"/>
<rect x="1132" y="511" width="5" height="4" fill="#000"/>
<rect x="1133" y="512" width="3" height="2" fill="#00ff00"/>
<rect x="1142" y="407" width="1" height="114" fill="#000"/>
<rect x="1140" y="424" width="5" height="91" fill="#000"/>
<rect x="1141" y="425" width="3" height="89" fill="#ff0000"/>
<rect x="1150" y="416" width="1" height="36" fill="#000"/>
<rect x="1148" y="424" width="5" height="14" fill="#000"/>
<rect x="1149" y="425" width="3" height="12" fill="#00ff00"/>
<rect x="1158" y="434" width="1" height="18" fill="#000"/>
<rect x="1156" y="444" width="5" height="5" fill="#000"/>
<rect x="1157" y="445" width="3" height="3" fill="#ff0000"/>
<rect x="1166" y="438" width="1" height="47" fill="#000"/>
<rect x="1164" y="444" width="5" height="41" fill="#000"/>
<rect x="1165" y="445" width="3" height="39" fill="#00ff00"/>
<rect x="1174" y="471" width="1" height="34" fill="#000"/>
<rect x="1172" y="484" width="5" height="11" fill="#000"/>
<rect x="1173" y="485" width="3" height="9" fill="#00ff00"/>
<rect x="1182" y="483" width="1" height="45" fill="#000"/>
<rect x="1180" y="483" width="5" height="12" fill="#000"/>
<rect x="1181" y="484" width="3" height="10" fill="#ff0000"/>
<rect x="1190" y="461" width="1" height="35" fill="#000"/>
<rect x="1188" y="483" width="5" height="7" fill="#000"/>
<rect x="1189" y="484" width="3" height="5" fill="#00ff00"/>
<rect x="1198" y="453" width="1" height="36" fill="#000"/>
<rect x="1196" y="465" width="5" height="24" fill="#000"/>
<rect x="1197" y="466" width="3" height="22" fill="#ff0000"/>
<rect x="1206" y="464" width="1" height="20" fill="#000"/>
<rect x="1204" y="465" width="5" height="6" fill="#000"/>
<rect x="1205" y="466" width="3" height="4" fill="#00ff00"/>
<rect x="1214" y="466" width="1" height="23" fill="#000"/>
<rect x="1212" y="469" width="5" height="10" fill="#000"/>
<rect x="1213" y="470" width="3" height="8" fill="#00ff00"/>
<rect x="1222" y="468" width="1" height="41" fill="#000"/>
<rect x="1220" y="478" width="5" height="27" fill="#000"/>
<rect x="1221" y="479" width="3" height="25" fill="#00ff00"/>
<rect x="1230" y="461" width="1" height="44" fill="#000"/>
<rect x="1228" y="468" width="5" height="37" fill="#000"/>
<rect x="1229" y="469" width="3" height="35" fill="#ff0000"/>
<rect x="1238" y="460" width="1" height="56" fill="#000"/>
<rect x="1236" y="468" width="5" height="18" fill="#000"/>
<rect x="1237" y="469" width="3" height="16" fill="#00ff00"/>
<rect x="1246" y="472" width="1" height="24" fill="#000"/>
<rect x="1244" y="477" width="5" height="8" fill="#000"/>
<rect x="1245" y="478" width="3" height="6" fill="#ff0000"/>
<rect x="1254" y="475" width="1" height="14" fill="#000"/>
<rect x="1252" y="477" width="5" height="7" fill="#000"/>
<rect x="1253" y="478" width="3" height="5" fill="#00ff00"/>
<rect x="1262" y="464" width="1" height="25" fill="#000"/>
<rect x="1260" y="477" width="5" height="6" fill="#000"/>
<rect x="1261" y="478" width="3" height="4" fill="#ff0000"/>
<rect x="1270" y="454" width="1" height="29" fill="#000"/>
<rect x="1268" y="469" width="5" height="9" fill="#000"/>
<rect x="1269" y="470" width="3" height="7" fill="#ff0000"/>
<rect x="1278" y="461" width="1" height="45" fill="#000"/>
<rect x="1276" y="469" width="5" height="19" fill="#000"/>
<rect x="1277" y="470" width="3" height="17" fill="#00ff00"/>
<rect x="1286" y="484" width="1" height="89" fill="#000"/>
<rect x="1284" y="487" width="5" height="45" fill="#000"/>
<rect x="1285" y="488" width="3" height="43" fill="#00ff00"/>
<rect x="1294" y="523" width="1" height="25" fill="#000"/>
<rect x="1292" y="531" width="5" height="1" fill="#000"/>
<rect x="1302" y="526" width="1" height="15" fill="#000"/>
<rect x="1300" y="530" width="5" height="11" fill="#000"/>
<rect x="1301" y="531" width="3" height="9" fill="#00ff00"/>
<rect x="0" y="91" width="1" height="6" fill="#000"/>
</g>
<g shape-rendering="crispEdges"><path d="M1259.5,450 L1339,585" stroke="#00ff00" stroke-width="3.2" fill="none"/><path d="M1342.5,591 L1331.5,584.5 L1333,581.5 L1336,583.5 L1339,577 L1341.5,578 Z" fill="#00ff00"/></g>
<path d="M1310.8,21.5 h9.6 l-4.8,6 z" fill="#000" shape-rendering="crispEdges"/>
</g>
<text x="5" y="33" font-size="9.6" fill="#000" stroke="#000" stroke-width="0.12" textLength="58.3" lengthAdjust="spacingAndGlyphs" >USDCHF- H4</text>
<text x="68.5" y="33" font-size="9.6" fill="#000" stroke="#000" stroke-width="0.12" textLength="141.3" lengthAdjust="spacingAndGlyphs" >0.96168 0.96209 0.96081 0.96081</text>
<g shape-rendering="crispEdges">
<rect x="1650" y="27" width="2" height="1" fill="#000"/>
<rect x="1650" y="60" width="2" height="1" fill="#000"/>
<rect x="1650" y="93" width="2" height="1" fill="#000"/>
<rect x="1650" y="126" width="2" height="1" fill="#000"/>
<rect x="1650" y="159" width="2" height="1" fill="#000"/>
<rect x="1650" y="192" width="2" height="1" fill="#000"/>
<rect x="1650" y="225" width="2" height="1" fill="#000"/>
<rect x="1650" y="258" width="2" height="1" fill="#000"/>
<rect x="1650" y="291" width="2" height="1" fill="#000"/>
<rect x="1650" y="324" width="2" height="1" fill="#000"/>
<rect x="1650" y="357" width="2" height="1" fill="#000"/>
<rect x="1650" y="390" width="2" height="1" fill="#000"/>
<rect x="1650" y="423" width="2" height="1" fill="#000"/>
<rect x="1650" y="456" width="2" height="1" fill="#000"/>
<rect x="1650" y="489" width="2" height="1" fill="#000"/>
<rect x="1650" y="522" width="2" height="1" fill="#000"/>
<rect x="1650" y="555" width="2" height="1" fill="#000"/>
<rect x="1650" y="588" width="2" height="1" fill="#000"/>
<rect x="1650" y="621" width="2" height="1" fill="#000"/>
</g>
<text x="1655" y="31" font-size="9.6" fill="#000" stroke="#000" stroke-width="0.12" textLength="33" lengthAdjust="spacingAndGlyphs" >1.00855</text>
<text x="1655" y="64" font-size="9.6" fill="#000" stroke="#000" stroke-width="0.12" textLength="33" lengthAdjust="spacingAndGlyphs" >1.00550</text>
<text x="1655" y="97" font-size="9.6" fill="#000" stroke="#000" stroke-width="0.12" textLength="33" lengthAdjust="spacingAndGlyphs" >1.00240</text>
<text x="1655" y="130" font-size="9.6" fill="#000" stroke="#000" stroke-width="0.12" textLength="33" lengthAdjust="spacingAndGlyphs" >0.99935</text>
<text x="1655" y="163" font-size="9.6" fill="#000" stroke="#000" stroke-width="0.12" textLength="33" lengthAdjust="spacingAndGlyphs" >0.99625</text>
<text x="1655" y="196" font-size="9.6" fill="#000" stroke="#000" stroke-width="0.12" textLength="33" lengthAdjust="spacingAndGlyphs" >0.99320</text>
<text x="1655" y="229" font-size="9.6" fill="#000" stroke="#000" stroke-width="0.12" textLength="33" lengthAdjust="spacingAndGlyphs" >0.99010</text>
<text x="1655" y="262" font-size="9.6" fill="#000" stroke="#000" stroke-width="0.12" textLength="33" lengthAdjust="spacingAndGlyphs" >0.98705</text>
<text x="1655" y="295" font-size="9.6" fill="#000" stroke="#000" stroke-width="0.12" textLength="33" lengthAdjust="spacingAndGlyphs" >0.98395</text>
<text x="1655" y="328" font-size="9.6" fill="#000" stroke="#000" stroke-width="0.12" textLength="33" lengthAdjust="spacingAndGlyphs" >0.98090</text>
<text x="1655" y="361" font-size="9.6" fill="#000" stroke="#000" stroke-width="0.12" textLength="33" lengthAdjust="spacingAndGlyphs" >0.97780</text>
<text x="1655" y="394" font-size="9.6" fill="#000" stroke="#000" stroke-width="0.12" textLength="33" lengthAdjust="spacingAndGlyphs" >0.97475</text>
<text x="1655" y="427" font-size="9.6" fill="#000" stroke="#000" stroke-width="0.12" textLength="33" lengthAdjust="spacingAndGlyphs" >0.97165</text>
<text x="1655" y="559" font-size="9.6" fill="#000" stroke="#000" stroke-width="0.12" textLength="33" lengthAdjust="spacingAndGlyphs" >0.95935</text>
<text x="1655" y="592" font-size="9.6" fill="#000" stroke="#000" stroke-width="0.12" textLength="33" lengthAdjust="spacingAndGlyphs" >0.95630</text>
<text x="1655" y="625" font-size="9.6" fill="#000" stroke="#000" stroke-width="0.12" textLength="33" lengthAdjust="spacingAndGlyphs" >0.95320</text>
<rect x="1651" y="450" width="41" height="11" fill="#ff0000" shape-rendering="crispEdges"/>
<text x="1655" y="459" font-size="9.6" fill="#fff" stroke="#fff" stroke-width="0.12" textLength="33" lengthAdjust="spacingAndGlyphs" >0.96863</text>
<rect x="1651" y="484" width="41" height="11" fill="#ff0000" shape-rendering="crispEdges"/>
<text x="1655" y="493" font-size="9.6" fill="#fff" stroke="#fff" stroke-width="0.12" textLength="33" lengthAdjust="spacingAndGlyphs" >0.96547</text>
<rect x="1651" y="515" width="41" height="11" fill="#ffa500" shape-rendering="crispEdges"/>
<text x="1655" y="524" font-size="9.6" fill="#fff" stroke="#fff" stroke-width="0.12" textLength="33" lengthAdjust="spacingAndGlyphs" >0.96258</text>
<rect x="1651" y="535" width="41" height="11" fill="#000000" shape-rendering="crispEdges"/>
<text x="1655" y="544" font-size="9.6" fill="#fff" stroke="#fff" stroke-width="0.12" textLength="33" lengthAdjust="spacingAndGlyphs" >0.96081</text>
<rect x="1651" y="567" width="41" height="11" fill="#0000ff" shape-rendering="crispEdges"/>
<text x="1655" y="576" font-size="9.6" fill="#fff" stroke="#fff" stroke-width="0.12" textLength="33" lengthAdjust="spacingAndGlyphs" >0.95774</text>
<rect x="1651" y="592" width="41" height="11" fill="#0000ff" shape-rendering="crispEdges"/>
<text x="1655" y="601" font-size="9.6" fill="#fff" stroke="#fff" stroke-width="0.12" textLength="33" lengthAdjust="spacingAndGlyphs" >0.95542</text>
<g clip-path="url(#cd)">
<g shape-rendering="crispEdges">
<rect x="-3" y="668" width="3" height="34" fill="#00ff00"/>
<rect x="5" y="671" width="3" height="31" fill="#00ff00"/>
<rect x="13" y="674" width="3" height="28" fill="#00ff00"/>
<rect x="21" y="679" width="3" height="23" fill="#00ff00"/>
<rect x="29" y="688" width="3" height="14" fill="#00ff00"/>
<rect x="37" y="695" width="3" height="7" fill="#00ff00"/>
<rect x="45" y="700" width="3" height="2" fill="#00ff00"/>
<rect x="53" y="702" width="3" height="3" fill="#00ff00"/>
<rect x="61" y="702" width="3" height="4" fill="#00ff00"/>
<rect x="69" y="702" width="3" height="4" fill="#00ff00"/>
<rect x="77" y="702" width="3" height="4" fill="#00ff00"/>
<rect x="85" y="702" width="3" height="10" fill="#00ff00"/>
<rect x="93" y="702" width="3" height="16" fill="#00ff00"/>
<rect x="101" y="702" width="3" height="21" fill="#00ff00"/>
<rect x="109" y="702" width="3" height="26" fill="#00ff00"/>
<rect x="117" y="702" width="3" height="33" fill="#00ff00"/>
<rect x="125" y="702" width="3" height="43" fill="#00ff00"/>
<rect x="133" y="702" width="3" height="53" fill="#00ff00"/>
<rect x="141" y="702" width="3" height="61" fill="#00ff00"/>
<rect x="149" y="702" width="3" height="66" fill="#00ff00"/>
<rect x="157" y="702" width="3" height="70" fill="#00ff00"/>
<rect x="165" y="702" width="3" height="73" fill="#00ff00"/>
<rect x="173" y="702" width="3" height="74" fill="#00ff00"/>
<rect x="181" y="702" width="3" height="70" fill="#00ff00"/>
<rect x="189" y="702" width="3" height="66" fill="#00ff00"/>
<rect x="197" y="702" width="3" height="64" fill="#00ff00"/>
<rect x="205" y="702" width="3" height="64" fill="#00ff00"/>
<rect x="213" y="702" width="3" height="64" fill="#00ff00"/>
<rect x="221" y="702" width="3" height="65" fill="#00ff00"/>
<rect x="229" y="702" width="3" height="66" fill="#00ff00"/>
<rect x="237" y="702" width="3" height="67" fill="#00ff00"/>
<rect x="245" y="702" width="3" height="68" fill="#00ff00"/>
<rect x="253" y="702" width="3" height="66" fill="#00ff00"/>
<rect x="261" y="702" width="3" height="69" fill="#00ff00"/>
<rect x="269" y="702" width="3" height="68" fill="#00ff00"/>
<rect x="277" y="702" width="3" height="70" fill="#00ff00"/>
<rect x="285" y="702" width="3" height="70" fill="#00ff00"/>
<rect x="293" y="702" width="3" height="70" fill="#00ff00"/>
<rect x="301" y="702" width="3" height="67" fill="#00ff00"/>
<rect x="309" y="702" width="3" height="65" fill="#00ff00"/>
<rect x="317" y="702" width="3" height="61" fill="#00ff00"/>
<rect x="325" y="702" width="3" height="57" fill="#00ff00"/>
<rect x="333" y="702" width="3" height="55" fill="#00ff00"/>
<rect x="341" y="702" width="3" height="52" fill="#00ff00"/>
<rect x="349" y="702" width="3" height="50" fill="#00ff00"/>
<rect x="357" y="702" width="3" height="50" fill="#00ff00"/>
<rect x="365" y="702" width="3" height="48" fill="#00ff00"/>
<rect x="373" y="702" width="3" height="46" fill="#00ff00"/>
<rect x="381" y="702" width="3" height="45" fill="#00ff00"/>
<rect x="389" y="702" width="3" height="45" fill="#00ff00"/>
<rect x="397" y="702" width="3" height="43" fill="#00ff00"/>
<rect x="405" y="702" width="3" height="42" fill="#00ff00"/>
<rect x="413" y="702" width="3" height="40" fill="#00ff00"/>
<rect x="421" y="702" width="3" height="39" fill="#00ff00"/>
<rect x="429" y="702" width="3" height="38" fill="#00ff00"/>
<rect x="437" y="702" width="3" height="36" fill="#00ff00"/>
<rect x="445" y="702" width="3" height="35" fill="#00ff00"/>
<rect x="453" y="702" width="3" height="34" fill="#00ff00"/>
<rect x="461" y="702" width="3" height="31" fill="#00ff00"/>
<rect x="469" y="702" width="3" height="30" fill="#00ff00"/>
<rect x="477" y="702" width="3" height="29" fill="#00ff00"/>
<rect x="485" y="702" width="3" height="27" fill="#00ff00"/>
<rect x="493" y="702" width="3" height="24" fill="#00ff00"/>
<rect x="501" y="702" width="3" height="20" fill="#00ff00"/>
<rect x="509" y="702" width="3" height="18" fill="#00ff00"/>
<rect x="517" y="702" width="3" height="19" fill="#00ff00"/>
<rect x="525" y="702" width="3" height="17" fill="#00ff00"/>
<rect x="533" y="702" width="3" height="15" fill="#00ff00"/>
<rect x="541" y="702" width="3" height="13" fill="#00ff00"/>
<rect x="549" y="702" width="3" height="11" fill="#00ff00"/>
<rect x="557" y="702" width="3" height="8" fill="#00ff00"/>
<rect x="565" y="702" width="3" height="3" fill="#00ff00"/>
<rect x="573" y="702" width="3" height="1" fill="#00ff00"/>
<rect x="581" y="701" width="3" height="1" fill="#00ff00"/>
<rect x="589" y="699" width="3" height="3" fill="#00ff00"/>
<rect x="597" y="701" width="3" height="1" fill="#00ff00"/>
<rect x="605" y="702" width="3" height="1" fill="#00ff00"/>
<rect x="613" y="702" width="3" height="1" fill="#00ff00"/>
<rect x="621" y="702" width="3" height="4" fill="#00ff00"/>
<rect x="629" y="702" width="3" height="7" fill="#00ff00"/>
<rect x="637" y="702" width="3" height="8" fill="#00ff00"/>
<rect x="645" y="702" width="3" height="11" fill="#00ff00"/>
<rect x="653" y="702" width="3" height="9" fill="#00ff00"/>
<rect x="661" y="702" width="3" height="4" fill="#00ff00"/>
<rect x="669" y="702" width="3" height="2" fill="#00ff00"/>
<rect x="677" y="702" width="3" height="1" fill="#00ff00"/>
<rect x="685" y="701" width="3" height="1" fill="#00ff00"/>
<rect x="693" y="701" width="3" height="1" fill="#00ff00"/>
<rect x="701" y="700" width="3" height="2" fill="#00ff00"/>
<rect x="709" y="693" width="3" height="9" fill="#00ff00"/>
<rect x="717" y="687" width="3" height="15" fill="#00ff00"/>
<rect x="725" y="682" width="3" height="20" fill="#00ff00"/>
<rect x="733" y="678" width="3" height="24" fill="#00ff00"/>
<rect x="741" y="672" width="3" height="30" fill="#00ff00"/>
<rect x="749" y="665" width="3" height="37" fill="#00ff00"/>
<rect x="757" y="664" width="3" height="38" fill="#00ff00"/>
<rect x="765" y="664" width="3" height="38" fill="#00ff00"/>
<rect x="773" y="664" width="3" height="38" fill="#00ff00"/>
<rect x="781" y="664" width="3" height="38" fill="#00ff00"/>
<rect x="789" y="662" width="3" height="40" fill="#00ff00"/>
<rect x="797" y="662" width="3" height="40" fill="#00ff00"/>
<rect x="805" y="665" width="3" height="37" fill="#00ff00"/>
<rect x="813" y="661" width="3" height="41" fill="#00ff00"/>
<rect x="821" y="660" width="3" height="42" fill="#00ff00"/>
<rect x="829" y="661" width="3" height="41" fill="#00ff00"/>
<rect x="837" y="660" width="3" height="42" fill="#00ff00"/>
<rect x="845" y="661" width="3" height="41" fill="#00ff00"/>
<rect x="853" y="663" width="3" height="39" fill="#00ff00"/>
<rect x="861" y="661" width="3" height="41" fill="#00ff00"/>
<rect x="869" y="662" width="3" height="40" fill="#00ff00"/>
<rect x="877" y="664" width="3" height="38" fill="#00ff00"/>
<rect x="885" y="666" width="3" height="36" fill="#00ff00"/>
<rect x="893" y="664" width="3" height="38" fill="#00ff00"/>
<rect x="901" y="658" width="3" height="44" fill="#00ff00"/>
<rect x="909" y="655" width="3" height="47" fill="#00ff00"/>
<rect x="917" y="652" width="3" height="50" fill="#00ff00"/>
<rect x="925" y="650" width="3" height="52" fill="#00ff00"/>
<rect x="933" y="648" width="3" height="54" fill="#00ff00"/>
<rect x="941" y="644" width="3" height="58" fill="#00ff00"/>
<rect x="949" y="640" width="3" height="62" fill="#00ff00"/>
<rect x="957" y="636" width="3" height="66" fill="#00ff00"/>
<rect x="965" y="635" width="3" height="67" fill="#00ff00"/>
<rect x="973" y="635" width="3" height="67" fill="#00ff00"/>
<rect x="981" y="643" width="3" height="59" fill="#00ff00"/>
<rect x="989" y="643" width="3" height="59" fill="#00ff00"/>
<rect x="997" y="642" width="3" height="60" fill="#00ff00"/>
<rect x="1005" y="637" width="3" height="65" fill="#00ff00"/>
<rect x="1013" y="637" width="3" height="65" fill="#00ff00"/>
<rect x="1021" y="638" width="3" height="64" fill="#00ff00"/>
<rect x="1029" y="641" width="3" height="61" fill="#00ff00"/>
<rect x="1037" y="643" width="3" height="59" fill="#00ff00"/>
<rect x="1045" y="643" width="3" height="59" fill="#00ff00"/>
<rect x="1053" y="650" width="3" height="52" fill="#00ff00"/>
<rect x="1061" y="656" width="3" height="46" fill="#00ff00"/>
<rect x="1069" y="661" width="3" height="41" fill="#00ff00"/>
<rect x="1077" y="678" width="3" height="24" fill="#00ff00"/>
<rect x="1085" y="691" width="3" height="11" fill="#00ff00"/>
<rect x="1093" y="702" width="3" height="13" fill="#00ff00"/>
<rect x="1101" y="702" width="3" height="30" fill="#00ff00"/>
<rect x="1109" y="702" width="3" height="43" fill="#00ff00"/>
<rect x="1117" y="702" width="3" height="49" fill="#00ff00"/>
<rect x="1125" y="702" width="3" height="59" fill="#00ff00"/>
<rect x="1133" y="702" width="3" height="66" fill="#00ff00"/>
<rect x="1141" y="702" width="3" height="65" fill="#00ff00"/>
<rect x="1149" y="702" width="3" height="64" fill="#00ff00"/>
<rect x="1157" y="702" width="3" height="63" fill="#00ff00"/>
<rect x="1165" y="702" width="3" height="64" fill="#00ff00"/>
<rect x="1173" y="702" width="3" height="66" fill="#00ff00"/>
<rect x="1181" y="702" width="3" height="65" fill="#00ff00"/>
<rect x="1189" y="702" width="3" height="62" fill="#00ff00"/>
<rect x="1197" y="702" width="3" height="61" fill="#00ff00"/>
<rect x="1205" y="702" width="3" height="58" fill="#00ff00"/>
<rect x="1213" y="702" width="3" height="56" fill="#00ff00"/>
<rect x="1221" y="702" width="3" height="56" fill="#00ff00"/>
<rect x="1229" y="702" width="3" height="52" fill="#00ff00"/>
<rect x="1237" y="702" width="3" height="50" fill="#00ff00"/>
<rect x="1245" y="702" width="3" height="47" fill="#00ff00"/>
<rect x="1253" y="702" width="3" height="45" fill="#00ff00"/>
<rect x="1261" y="702" width="3" height="42" fill="#00ff00"/>
<rect x="1269" y="702" width="3" height="39" fill="#00ff00"/>
<rect x="1277" y="702" width="3" height="38" fill="#00ff00"/>
<rect x="1285" y="702" width="3" height="39" fill="#00ff00"/>
<rect x="1293" y="702" width="3" height="40" fill="#00ff00"/>
<rect x="1301" y="702" width="3" height="41" fill="#00ff00"/>
</g>
<polyline points="0.0,666.2 8.6,667.0 17.0,668.8 29.0,672.0 39.4,676.6 51.4,683.7 68.5,692.5 85.6,700.6 102.8,708.8 125.0,719.5 133.6,725.8 143.8,735.0 150.0,736.6 158.8,742.8 173.0,756.9 185.4,763.1 197.8,768.4 238.4,768.4 247.3,767.0 263.2,767.0 286.2,769.6 309.2,769.6 326.9,767.5 335.7,765.7 362.3,757.8 380.0,752.5 397.7,749.0 415.3,747.2 424.2,744.9 446.0,742.8 463.7,739.2 481.4,735.7 499.0,731.3 516.8,726.8 534.4,722.4 552.0,717.6 569.8,713.9 587.5,710.0 599.9,706.5 614.0,703.0 637.0,703.0 654.7,705.6 661.8,707.0 686.6,707.0 700.7,706.0 711.3,702.0 729.0,695.0 742.0,691.5 750.8,685.3 768.5,677.3 789.8,668.5 807.5,663.7 830.4,662.3 848.0,660.8 862.3,661.9 887.0,662.8 917.0,661.9 927.7,659.0 936.6,657.8 954.3,650.8 966.7,646.0 982.6,641.9 996.7,640.5 1014.4,638.0 1030.3,638.4 1038.0,639.3 1055.7,641.0 1069.8,644.6 1084.0,654.3 1098.0,668.5 1112.3,689.7 1123.0,707.4 1137.0,726.8 1151.2,744.5 1165.4,756.9 1179.5,763.1 1190.0,764.9 1206.0,764.9 1225.5,762.2 1241.4,758.7 1264.4,752.5 1282.0,747.2 1302.5,743.1" fill="none" stroke="#ff0000" stroke-width="2" shape-rendering="crispEdges"/>
</g>
<text x="-5.2" y="639" font-size="9.6" fill="#000" stroke="#000" stroke-width="0.12" textLength="153.7" lengthAdjust="spacingAndGlyphs" >MACD(12,26,9) -0.003809 -0.003931</text>
<g shape-rendering="crispEdges">
<rect x="1650" y="628" width="1" height="1" fill="#000"/>
<rect x="1650" y="702" width="1" height="1" fill="#000"/>
<rect x="1650" y="781" width="1" height="1" fill="#000"/>
<rect x="1650" y="786" width="1" height="1" fill="#000"/>
<rect x="1650" y="921" width="1" height="1" fill="#000"/>
</g>
<text x="1653" y="637" font-size="9.6" fill="#000" stroke="#000" stroke-width="0.12" textLength="37" lengthAdjust="spacingAndGlyphs" >0.007142</text>
<text x="1653" y="706" font-size="9.6" fill="#000" stroke="#000" stroke-width="0.12" textLength="18" lengthAdjust="spacingAndGlyphs" >0.00</text>
<text x="1653" y="779" font-size="9.6" fill="#000" stroke="#000" stroke-width="0.12" textLength="40" lengthAdjust="spacingAndGlyphs" >-0.007561</text>
<g shape-rendering="crispEdges">
<line x1="3" y1="813.5" x2="1649" y2="813.5" stroke="#000" stroke-width="1" stroke-dasharray="3,3"/>
<line x1="3" y1="853.5" x2="1649" y2="853.5" stroke="#000" stroke-width="1" stroke-dasharray="3,3"/>
<line x1="3" y1="901.5" x2="1649" y2="901.5" stroke="#000" stroke-width="1" stroke-dasharray="3,3"/>
</g>
<g clip-path="url(#cr)">
<polyline points="0.0,839.7 14.0,840.3 30.0,871.8 40.0,868.2 48.0,866.6 57.0,866.6 62.0,864.6 72.0,852.6 78.0,852.6 86.0,872.2 96.0,876.6 102.0,878.2 118.0,885.2 127.0,893.3 136.0,896.7 144.0,896.7 148.0,894.7 160.0,894.7 167.4,888.7 175.4,888.7 182.4,879.2 190.5,875.8 198.5,876.6 206.5,882.2 213.5,883.8 224.5,888.7 227.5,889.7 238.6,889.7 248.6,890.7 252.6,888.7 256.6,888.7 261.6,893.3 269.6,883.6 278.7,888.7 284.7,885.8 294.7,885.8 301.7,879.8 310.7,879.8 318.8,872.6 328.8,872.6 335.8,875.8 350.0,876.6 358.0,881.2 366.0,875.8 373.0,877.8 382.0,877.8 390.0,880.6 398.0,882.2 406.0,872.6 418.0,876.6 430.0,876.2 439.0,875.8 446.0,878.8 454.0,867.8 461.0,865.8 470.0,870.6 479.0,870.6 486.4,868.2 494.4,862.6 502.4,854.2 509.4,859.2 518.5,867.8 526.5,857.8 534.5,857.8 542.5,853.8 550.5,853.8 560.5,843.7 566.6,840.1 573.6,844.1 580.6,845.7 589.6,844.5 597.6,859.8 604.7,859.2 612.7,859.8 620.7,865.2 637.7,865.2 644.8,870.6 654.8,852.2 661.8,843.1 671.0,847.2 678.0,847.2 688.0,852.2 696.0,852.2 702.0,849.8 710.0,829.1 719.0,826.1 726.0,826.1 735.0,824.7 743.0,818.5 750.2,815.7 758.2,832.5 764.2,834.1 770.3,834.1 780.3,830.5 790.3,827.1 797.3,827.1 806.4,832.7 816.4,825.1 821.4,825.1 830.4,833.1 837.4,828.7 846.4,836.1 854.5,836.1 862.5,828.5 869.5,830.1 878.5,836.5 886.5,837.7 896.6,825.1 902.6,820.7 912.6,821.7 927.6,820.7 934.7,817.1 942.7,814.1 950.7,811.1 959.7,811.1 966.7,816.1 973.7,820.1 981.8,838.5 989.8,833.7 999.0,822.5 1006.0,822.5 1014.0,829.7 1022.0,830.7 1039.0,830.7 1045.7,826.5 1053.8,847.8 1070.2,847.8 1077.8,873.8 1086.6,871.6 1093.8,884.6 1109.3,884.6 1118.3,875.8 1126.3,880.6 1135.3,880.6 1142.0,866.6 1150.4,868.6 1158.4,868.6 1167.4,873.6 1177.4,873.6 1184.5,871.6 1191.5,871.6 1199.5,867.8 1206.5,867.8 1213.5,869.2 1221.6,872.6 1230.6,865.8 1236.6,866.6 1257.6,866.6 1267.7,864.2 1273.7,864.2 1278.7,865.8 1285.7,873.8 1294.7,873.8 1302.7,874.8" fill="none" stroke="#1e90ff" stroke-width="2" stroke-linejoin="round" shape-rendering="crispEdges"/>
</g>
<text x="-6.5" y="797" font-size="9.6" fill="#000" stroke="#000" stroke-width="0.12" textLength="68.8" lengthAdjust="spacingAndGlyphs" >RSI(14) 33.8697</text>
<text x="1653" y="795" font-size="9.6" fill="#000" stroke="#000" stroke-width="0.12" textLength="15" lengthAdjust="spacingAndGlyphs" >100</text>
<text x="1652" y="817" font-size="9.6" fill="#000" stroke="#000" stroke-width="0.12" textLength="10" lengthAdjust="spacingAndGlyphs" >80</text>
<text x="1652" y="857" font-size="9.6" fill="#000" stroke="#000" stroke-width="0.12" textLength="10" lengthAdjust="spacingAndGlyphs" >50</text>
<text x="1652" y="905" font-size="9.6" fill="#000" stroke="#000" stroke-width="0.12" textLength="10" lengthAdjust="spacingAndGlyphs" >15</text>
<text x="1653" y="918.5" font-size="9.6" fill="#000" stroke="#000" stroke-width="0.12" textLength="5" lengthAdjust="spacingAndGlyphs" >0</text>
<g shape-rendering="crispEdges">
<rect x="54" y="923" width="1" height="3" fill="#000"/>
<rect x="118" y="923" width="1" height="3" fill="#000"/>
<rect x="182" y="923" width="1" height="3" fill="#000"/>
<rect x="246" y="923" width="1" height="3" fill="#000"/>
<rect x="310" y="923" width="1" height="3" fill="#000"/>
<rect x="374" y="923" width="1" height="3" fill="#000"/>
<rect x="438" y="923" width="1" height="3" fill="#000"/>
<rect x="502" y="923" width="1" height="3" fill="#000"/>
<rect x="566" y="923" width="1" height="3" fill="#000"/>
<rect x="630" y="923" width="1" height="3" fill="#000"/>
<rect x="694" y="923" width="1" height="3" fill="#000"/>
<rect x="758" y="923" width="1" height="3" fill="#000"/>
<rect x="822" y="923" width="1" height="3" fill="#000"/>
<rect x="886" y="923" width="1" height="3" fill="#000"/>
<rect x="950" y="923" width="1" height="3" fill="#000"/>
<rect x="1014" y="923" width="1" height="3" fill="#000"/>
<rect x="1078" y="923" width="1" height="3" fill="#000"/>
<rect x="1142" y="923" width="1" height="3" fill="#000"/>
<rect x="1206" y="923" width="1" height="3" fill="#000"/>
<rect x="1270" y="923" width="1" height="3" fill="#000"/>
</g>
<text x="2.6" y="935" font-size="9.6" fill="#000" stroke="#000" stroke-width="0.12" textLength="41.3" lengthAdjust="spacingAndGlyphs" >May 2022</text>
<text x="53.2" y="935" font-size="9.6" fill="#000" stroke="#000" stroke-width="0.12" textLength="58.8" lengthAdjust="spacingAndGlyphs" >17 May 20:00</text>
<text x="117.2" y="935" font-size="9.6" fill="#000" stroke="#000" stroke-width="0.12" textLength="58.8" lengthAdjust="spacingAndGlyphs" >19 May 04:00</text>
<text x="181.2" y="935" font-size="9.6" fill="#000" stroke="#000" stroke-width="0.12" textLength="58.8" lengthAdjust="spacingAndGlyphs" >20 May 12:00</text>
<text x="245.2" y="935" font-size="9.6" fill="#000" stroke="#000" stroke-width="0.12" textLength="58.8" lengthAdjust="spacingAndGlyphs" >23 May 20:00</text>
<text x="309.2" y="935" font-size="9.6" fill="#000" stroke="#000" stroke-width="0.12" textLength="58.8" lengthAdjust="spacingAndGlyphs" >25 May 04:00</text>
<text x="373.2" y="935" font-size="9.6" fill="#000" stroke="#000" stroke-width="0.12" textLength="58.8" lengthAdjust="spacingAndGlyphs" >26 May 12:00</text>
<text x="437.2" y="935" font-size="9.6" fill="#000" stroke="#000" stroke-width="0.12" textLength="58.8" lengthAdjust="spacingAndGlyphs" >29 May 23:00</text>
<text x="501.2" y="935" font-size="9.6" fill="#000" stroke="#000" stroke-width="0.12" textLength="58.8" lengthAdjust="spacingAndGlyphs" >31 May 04:00</text>
<text x="565.2" y="935" font-size="9.6" fill="#000" stroke="#000" stroke-width="0.12" textLength="48" lengthAdjust="spacingAndGlyphs" >1 Jun 12:00</text>
<text x="629.2" y="935" font-size="9.6" fill="#000" stroke="#000" stroke-width="0.12" textLength="48" lengthAdjust="spacingAndGlyphs" >2 Jun 20:00</text>
<text x="693.2" y="935" font-size="9.6" fill="#000" stroke="#000" stroke-width="0.12" textLength="48" lengthAdjust="spacingAndGlyphs" >6 Jun 04:00</text>
<text x="757.2" y="935" font-size="9.6" fill="#000" stroke="#000" stroke-width="0.12" textLength="48" lengthAdjust="spacingAndGlyphs" >7 Jun 12:00</text>
<text x="821.2" y="935" font-size="9.6" fill="#000" stroke="#000" stroke-width="0.12" textLength="48" lengthAdjust="spacingAndGlyphs" >8 Jun 20:00</text>
<text x="885.2" y="935" font-size="9.6" fill="#000" stroke="#000" stroke-width="0.12" textLength="53.3" lengthAdjust="spacingAndGlyphs" >10 Jun 04:00</text>
<text x="949.2" y="935" font-size="9.6" fill="#000" stroke="#000" stroke-width="0.12" textLength="53.3" lengthAdjust="spacingAndGlyphs" >13 Jun 12:00</text>
<text x="1013.2" y="935" font-size="9.6" fill="#000" stroke="#000" stroke-width="0.12" textLength="53.3" lengthAdjust="spacingAndGlyphs" >14 Jun 20:00</text>
<text x="1077.2" y="935" font-size="9.6" fill="#000" stroke="#000" stroke-width="0.12" textLength="53.3" lengthAdjust="spacingAndGlyphs" >16 Jun 04:00</text>
<text x="1141.2" y="935" font-size="9.6" fill="#000" stroke="#000" stroke-width="0.12" textLength="53.3" lengthAdjust="spacingAndGlyphs" >17 Jun 12:00</text>
<text x="1205.2" y="935" font-size="9.6" fill="#000" stroke="#000" stroke-width="0.12" textLength="53.3" lengthAdjust="spacingAndGlyphs" >20 Jun 20:00</text>
<text x="1269.2" y="935" font-size="9.6" fill="#000" stroke="#000" stroke-width="0.12" textLength="53.3" lengthAdjust="spacingAndGlyphs" >22 Jun 04:00</text>
</svg></body></html>
